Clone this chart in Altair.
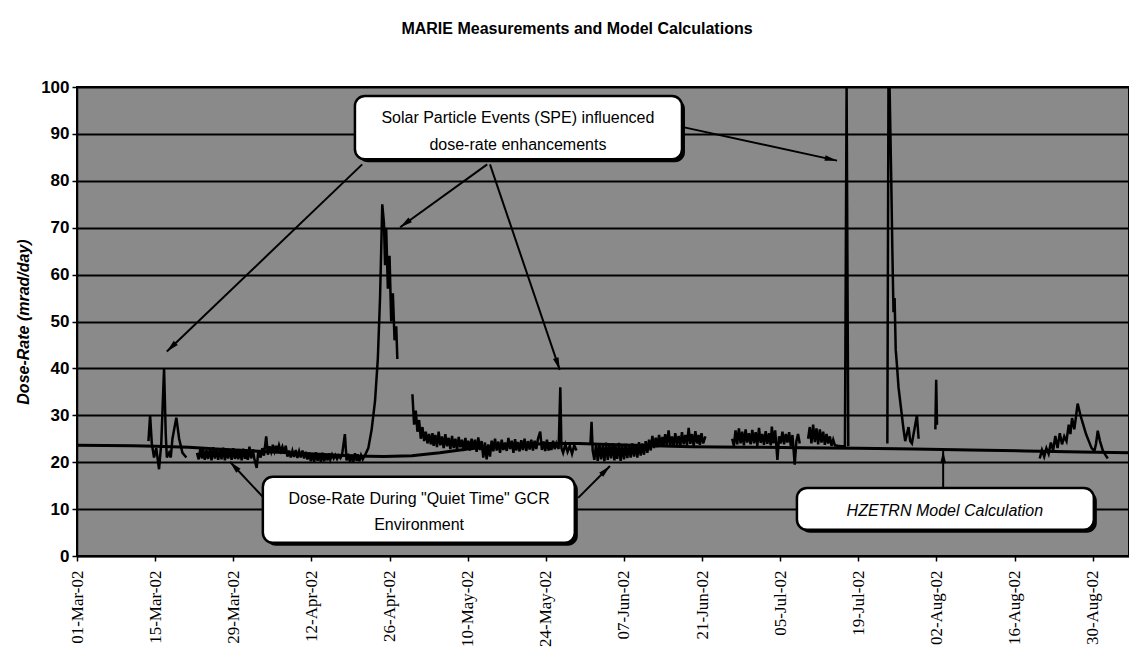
import math
import altair as alt
import pandas as pd

# ---- measured dose-rate segments: (day since 01-Mar-02, mrad/day) ----
seg_days = [
    [12.8, 13.1, 13.4, 13.8, 14.2, 14.7, 15.1, 15.6, 15.9, 16.1, 16.5, 16.8, 17.1, 17.8, 18.3, 18.9, 19.6],
    [21.5, 21.8, 22.1, 22.4, 22.6, 22.9, 23.2, 23.5, 23.8, 24.1, 24.4, 24.7, 25.0, 25.3, 25.6, 25.9,
     26.2, 26.5, 26.8, 27.1, 27.4, 27.7, 28.0, 28.3, 28.6, 28.9, 29.2, 29.5, 29.8, 30.1, 30.3, 30.6,
     30.9, 31.2, 31.5, 31.8, 32.2, 32.5, 32.9, 33.2, 33.5, 33.9, 34.2, 34.5, 34.8, 35.1, 35.4, 35.7,
     35.9, 36.2, 36.5, 36.8, 37.1, 37.4, 37.7, 38.0, 38.3, 38.6, 38.9, 39.2, 39.5, 39.8, 40.1, 40.4,
     40.7, 41.0, 41.3, 41.6, 41.9, 42.2, 42.5, 42.8, 43.1, 43.4, 43.7, 44.0, 44.3, 44.6, 44.9, 45.2,
     45.4, 45.7, 46.0, 46.3, 46.6, 46.9, 47.2, 47.5, 48.0, 48.3, 48.6, 48.9, 49.2, 49.5, 49.8, 50.1,
     50.3, 50.6, 50.9, 51.2, 51.6, 52.2, 52.8, 53.4, 53.9, 54.3, 54.7, 55.0, 55.2, 55.4, 55.7, 56.0,
     56.3, 56.6, 56.9, 57.2, 57.4],
    [60.1, 60.4, 60.7, 61.0, 61.3, 61.6, 61.9, 62.2, 62.5, 62.8, 63.1, 63.4, 63.7, 63.9, 64.2, 64.5,
     64.8, 65.1, 65.4, 65.7, 66.0, 66.3, 66.6, 66.9, 67.2, 67.5, 67.8, 68.1, 68.4, 68.7, 69.0, 69.3,
     69.6, 69.8, 70.1, 70.4, 70.7, 71.0, 71.3, 71.6, 71.9, 72.2, 72.5, 72.8, 73.1, 73.4, 73.7, 74.0,
     74.3, 74.6, 74.9, 75.2, 75.5, 75.8, 76.1, 76.4, 76.7, 77.0, 77.3, 77.6, 77.9, 78.2, 78.5, 78.7,
     79.0, 79.3, 79.6, 79.9, 80.2, 80.5, 80.8, 81.1, 81.4, 81.7, 82.0, 82.3, 82.6, 83.0, 83.3, 83.6,
     83.9, 84.2, 84.5, 84.8, 85.0, 85.3, 85.6, 85.9, 86.3, 86.6, 86.8, 87.1, 87.5, 87.9, 88.3, 88.7,
     89.1, 89.5],
    [92.0, 92.2, 92.4, 92.7, 93.0, 93.3, 93.6, 93.9, 94.2, 94.5, 94.8, 95.1, 95.4, 95.7, 96.0, 96.3,
     96.5, 96.8, 97.1, 97.4, 97.7, 98.0, 98.3, 98.6, 98.9, 99.2, 99.5, 99.8, 100.1, 100.4, 100.7,
     101.0, 101.3, 101.6, 101.9, 102.2, 102.5, 102.8, 103.1, 103.4, 103.7, 104.0, 104.3, 104.6, 104.9,
     105.1, 105.4, 105.7, 106.0, 106.3, 106.6, 106.9, 107.2, 107.5, 107.8, 108.1, 108.4, 108.7, 109.0,
     109.3, 109.6, 109.9, 110.2, 110.5, 110.8, 111.1, 111.4, 111.6, 111.9, 112.2, 112.6],
    [117.4, 117.7, 118.0, 118.3, 118.6, 118.9, 119.2, 119.5, 119.8, 120.1, 120.4, 120.7, 121.0, 121.3,
     121.6, 121.9, 122.2, 122.5, 122.8, 123.1, 123.4, 123.7, 124.0, 124.3, 124.5, 124.8, 125.1, 125.5,
     125.8, 126.1, 126.4, 126.7, 127.0, 127.3, 127.6, 127.9, 128.2, 128.6, 128.9, 129.2, 129.5],
    [131.0, 131.3, 131.6, 131.9, 132.2, 132.5, 132.8, 133.1, 133.4, 133.7, 134.0, 134.3, 134.6, 134.9,
     135.2, 135.5, 135.8, 136.3, 136.9, 137.6, 137.9, 138.2],
    [145.2, 145.4, 145.6, 145.9, 146.1, 146.3, 146.5, 146.7, 146.9, 147.2, 147.5, 147.8, 148.1, 148.4,
     148.7, 149.0, 149.3, 149.6, 149.9, 150.2, 150.5, 150.8],
    [153.8, 153.95, 154.1],
    [172.5, 172.9, 173.3, 173.7, 174.1, 174.5, 174.9, 175.3, 175.7, 176.1, 176.5, 176.9, 177.3, 177.7,
     178.0, 178.3, 178.7, 179.3, 179.8, 180.3, 180.8, 181.3, 181.8, 182.3, 182.6, 182.9, 183.3, 183.8,
     184.3, 184.7],
]
seg_vals = [
    [24.5, 30.0, 24.0, 21.0, 23.0, 18.5, 24.0, 40.0, 26.0, 21.0, 22.0, 21.0, 25.0, 29.5, 25.0, 22.0, 21.0],
    [22.0, 20.6, 22.8, 20.8, 23.0, 20.5, 22.6, 20.7, 22.9, 20.4, 23.2, 20.8, 22.7, 20.5, 22.9, 20.6,
     23.1, 20.4, 22.6, 20.8, 22.8, 20.5, 23.0, 20.7, 22.5, 20.6, 22.8, 20.4, 22.9, 20.7, 22.6, 20.5,
     23.3, 20.8, 22.7, 20.6, 18.8, 22.5, 21.0, 23.0, 21.4, 25.5, 21.6, 23.4, 22.2, 23.7, 22.3, 23.5,
     22.1, 23.6, 22.4, 23.3, 22.0, 23.5, 21.2, 22.5, 21.0, 22.4, 21.1, 22.6, 20.9, 22.3, 21.0, 22.5,
     20.8, 22.2, 20.6, 22.0, 20.2, 21.9, 20.1, 22.1, 20.3, 21.8, 20.0, 22.0, 20.2, 21.7, 20.4, 21.9,
     20.6, 21.6, 20.8, 21.5, 20.7, 21.4, 20.9, 21.6, 26.0, 20.4, 21.8, 20.1, 21.6, 20.0, 21.9, 20.3,
     21.7, 20.2, 21.5, 20.6, 21.5, 23.0, 27.0, 33.0, 42.0, 55.0, 75.0, 71.0, 62.0, 70.0, 57.0, 64.0,
     50.0, 56.0, 46.0, 49.0, 42.0],
    [34.5, 28.0, 31.0, 26.5, 29.0, 25.0, 27.5, 24.5, 26.5, 24.0, 26.0, 23.8, 26.2, 23.5, 25.8, 23.2,
     26.5, 23.6, 25.5, 23.0, 26.0, 23.4, 25.2, 22.8, 25.6, 23.0, 25.0, 22.6, 25.4, 23.2, 24.8, 22.4,
     25.2, 22.8, 24.6, 22.5, 25.0, 23.0, 24.8, 22.2, 25.3, 22.6, 24.5, 21.0, 24.2, 20.6, 23.8, 21.2,
     24.6, 22.3, 25.0, 22.5, 24.4, 22.0, 24.8, 22.6, 24.2, 22.4, 25.2, 22.8, 24.6, 22.0, 24.9, 22.5,
     24.3, 22.3, 24.7, 22.6, 25.0, 22.4, 24.5, 22.7, 24.8, 22.5, 24.6, 22.8, 25.0, 26.5, 22.6, 24.4,
     22.4, 24.8, 22.5, 24.2, 22.6, 24.6, 22.8, 24.0, 22.8, 36.0, 23.0, 22.0, 23.8, 22.2, 23.5, 21.8,
     23.6, 22.5],
    [24.0, 28.6, 22.5, 20.5, 23.8, 20.3, 24.0, 20.6, 23.6, 20.2, 24.2, 20.5, 23.8, 20.8, 24.0, 20.4,
     23.5, 20.7, 24.1, 20.3, 23.7, 20.6, 23.9, 20.9, 23.6, 21.0, 24.0, 21.2, 23.8, 21.0, 24.3,
     21.4, 24.0, 21.6, 24.5, 22.0, 24.8, 22.5, 25.6, 23.0, 25.2, 23.2, 25.8, 23.4, 25.4,
     23.3, 26.0, 23.5, 26.8, 23.6, 25.5, 23.4, 26.2, 23.7, 25.6, 23.5, 26.4, 23.8, 25.8,
     23.6, 27.3, 23.9, 26.0, 23.5, 26.6, 24.0, 25.8, 23.7, 26.2, 24.0, 25.5],
    [25.0, 23.5, 26.8, 23.8, 27.2, 24.0, 26.5, 23.6, 27.0, 24.2, 26.2, 23.8, 26.9, 24.0,
     26.4, 23.5, 27.3, 24.1, 26.0, 23.7, 26.6, 23.9, 26.2, 23.6, 27.6, 24.0, 26.8, 20.5,
     25.5, 24.0, 26.5, 23.8, 26.0, 24.2, 26.4, 23.5, 25.8, 19.5, 24.5, 26.0, 24.0],
    [25.0, 27.5, 24.0, 28.0, 24.3, 27.2, 23.8, 27.0, 24.2, 26.5, 23.7, 26.0, 24.0, 25.5,
     23.5, 24.8, 23.6, 23.5, 23.4, 23.4, 100.0, 23.4],
    [24.0, 100.0, 100.0, 80.0, 65.0, 52.0, 55.0, 44.0, 41.0, 36.0, 33.0, 30.0, 27.0, 24.5,
     26.0, 27.5, 24.5, 24.0, 26.0, 28.0, 30.0, 25.0],
    [27.0, 37.6, 28.0],
    [20.8, 22.6, 21.2, 23.0, 21.8, 24.2, 22.5, 25.6, 23.0, 26.2, 23.8, 25.5, 24.5, 28.0,
     26.0, 29.4, 27.0, 32.5, 30.0, 28.0, 26.0, 24.5, 23.0, 22.4, 24.0, 26.7, 24.5, 22.5,
     21.5, 20.8],
]

# ---- HZETRN model calculation ----
model_days = [0, 10, 14, 20, 25, 30, 35, 40, 45, 50, 55, 60, 65, 70, 75, 80, 85, 90, 95, 100,
              110, 120, 130, 140, 150, 160, 170, 180, 188.5]
model_vals = [23.6, 23.5, 23.4, 23.2, 22.8, 22.5, 22.2, 21.9, 21.6, 21.3, 21.2, 21.4, 22.0, 22.8,
              23.4, 23.8, 24.0, 24.0, 23.8, 23.6, 23.3, 23.2, 23.1, 23.0, 22.8, 22.6, 22.4, 22.2, 22.0]

# ---- axis ticks ----
tick_days = [0, 14, 28, 42, 56, 70, 84, 98, 112, 126, 140, 154, 168, 182]
y_ticks = list(range(0, 101, 10))

# ---- callout boxes: day range, value range ----
box_d1 = [49.8, 33.3, 129.0]
box_d2 = [108.4, 89.2, 182.2]
box_v1 = [98.1, 16.9, 14.5]
box_v2 = [84.6, 2.8, 5.6]

# ---- callout texts ----
txt = ["Solar Particle Events (SPE)  influenced", "dose-rate  enhancements",
       "Dose-Rate During \"Quiet Time\" GCR", "Environment", "HZETRN Model Calculation"]
txt_day = [79.0, 79.0, 61.3, 61.3, 155.5]
txt_val = [93.4, 87.6, 12.2, 6.6, 9.7]
txt_italic = [False, False, False, False, True]

# ---- arrows: start (day, value) -> tip (day, value) ----
arr_d0 = [51.1, 73.5, 74.0, 108.4, 33.3, 89.8, 155.2]
arr_v0 = [83.5, 83.5, 83.5, 91.5, 12.6, 12.4, 14.5]
arr_d1 = [16.1, 57.9, 86.5, 136.2, 27.4, 95.5, 155.2]
arr_v1 = [43.6, 70.1, 39.7, 84.3, 20.1, 19.2, 22.4]

W, H = 1052, 469
SPAN_DAYS = 188.5
PX_DAY = W / SPAN_DAYS
PX_VAL = H / 100.0
T0 = pd.Timestamp("2002-03-01")


def to_date(d):
    return T0 + pd.to_timedelta(d, unit="D")


def dt(d):
    t = to_date(d)
    return alt.DateTime(year=int(t.year), month=int(t.month), date=int(t.day),
                        hours=int(t.hour), minutes=int(t.minute))


meas_rows = []
for i, (ds, vs) in enumerate(zip(seg_days, seg_vals)):
    for d, v in zip(ds, vs):
        meas_rows.append({"date": to_date(d), "rate": v, "seg": i})
meas = pd.DataFrame(meas_rows)

model = pd.DataFrame({"date": [to_date(d) for d in model_days], "rate": model_vals})

boxes = pd.DataFrame({"d1": [to_date(d) for d in box_d1], "d2": [to_date(d) for d in box_d2],
                      "v1": box_v1, "v2": box_v2})
texts = pd.DataFrame({"date": [to_date(d) for d in txt_day], "rate": txt_val,
                      "label": txt, "italic": txt_italic})

HEAD = 170  # arrowhead symbol area
head_r = math.sqrt(HEAD) / 2
heads = []
for d0, v0, d1, v1 in zip(arr_d0, arr_v0, arr_d1, arr_v1):
    dx = (d1 - d0) * PX_DAY
    dy = -(v1 - v0) * PX_VAL
    L = math.hypot(dx, dy)
    ang = math.degrees(math.atan2(dx, -dy)) % 360
    cd = d1 - dx / L * head_r / PX_DAY
    cv = v1 + dy / L * head_r / PX_VAL
    heads.append({"date": to_date(cd), "rate": cv, "ang": ang})
heads = pd.DataFrame(heads)
arrows = pd.DataFrame({"d0": [to_date(d) for d in arr_d0], "v0": arr_v0,
                       "d1": [to_date(d) for d in arr_d1], "v1": arr_v1})

x_scale = alt.Scale(domain=[dt(0), dt(SPAN_DAYS)], nice=False)
y_scale = alt.Scale(domain=[0, 100], nice=False)

x_axis = alt.Axis(values=[dt(d) for d in tick_days],
                  format="%d-%b-%y", labelAngle=270, labelFont="Liberation Serif",
                  labelFontSize=17, labelColor="black", labelPadding=9, tickColor="black",
                  tickSize=5, tickWidth=1.5, domainColor="black", domainWidth=1.5, grid=False,
                  title=None, labelOverlap=False, labelFlush=False)
y_axis = alt.Axis(values=y_ticks, labelFont="Liberation Sans", labelFontWeight="bold",
                  labelFontSize=17, labelColor="black", labelPadding=3, tickColor="black",
                  tickSize=5, tickWidth=1.5, domainColor="black", domainWidth=1.5,
                  grid=True, gridColor="black", gridWidth=2.2, gridOpacity=1,
                  title="Dose-Rate (mrad/day)", titleFont="Liberation Sans",
                  titleFontWeight="bold", titleFontStyle="italic", titleFontSize=16,
                  titleColor="black", titlePadding=9)

meas_line = alt.Chart(meas).mark_line(color="black", strokeWidth=2.5, clip=True).encode(
    x=alt.X("date:T", scale=x_scale, axis=x_axis),
    y=alt.Y("rate:Q", scale=y_scale, axis=y_axis),
    detail="seg:N",
)
model_line = alt.Chart(model).mark_line(color="black", strokeWidth=3, clip=True).encode(
    x="date:T", y="rate:Q")

shadow = alt.Chart(boxes).mark_rect(color="black", cornerRadius=10, xOffset=3, x2Offset=3,
                                    yOffset=3, y2Offset=3).encode(
    x="d1:T", x2="d2:T", y="v1:Q", y2="v2:Q")
box = alt.Chart(boxes).mark_rect(fill="white", stroke="black", strokeWidth=2.5,
                                 cornerRadius=10).encode(
    x="d1:T", x2="d2:T", y="v1:Q", y2="v2:Q")
text_base = alt.Chart(texts).encode(x="date:T", y="rate:Q", text="label:N")
labels = text_base.mark_text(font="Liberation Sans", fontSize=16, color="black",
                             align="center", baseline="middle").transform_filter(
    "!datum.italic")
labels_it = text_base.mark_text(font="Liberation Sans", fontSize=16, color="black",
                                fontStyle="italic", align="center",
                                baseline="middle").transform_filter("datum.italic")

arrow_lines = alt.Chart(arrows).mark_rule(color="black", strokeWidth=2).encode(
    x="d0:T", y="v0:Q", x2="d1:T", y2="v1:Q")
arrow_heads = alt.Chart(heads).mark_point(
    shape="M0,-1L0.45,0.9L-0.45,0.9Z", filled=True, color="black", opacity=1, size=HEAD).encode(
    x="date:T", y="rate:Q", angle=alt.Angle("ang:Q", scale=None))

chart = alt.layer(meas_line, model_line, arrow_lines, arrow_heads, shadow, box, labels,
                  labels_it).properties(
    width=W, height=H,
    title=alt.TitleParams("MARIE Measurements and Model Calculations", font="Liberation Sans",
                          fontSize=16, fontWeight="bold", color="black", anchor="middle",
                          dx=-26, offset=41),
    autosize=alt.AutoSizeParams(type="none"),
    padding={"left": 77, "top": 87, "right": 0, "bottom": 101},
).configure(background="white").configure_view(fill="#8a8a8a", stroke="black", strokeWidth=2)

chart.save("out.html", embed_options={"renderer": "svg", "actions": False})
